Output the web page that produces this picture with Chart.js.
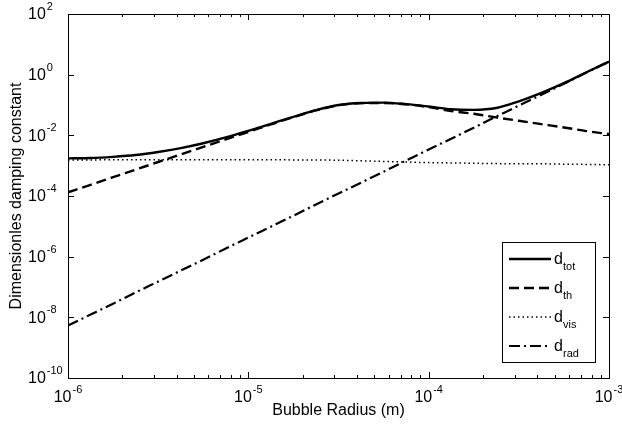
<!DOCTYPE html>
<html>
<head>
<meta charset="utf-8">
<script src="https://cdn.jsdelivr.net/npm/chart.js@4.4.1/dist/chart.umd.min.js"></script>
<style>
body{margin:0;background:#fff;}
canvas{display:block;}
</style>
</head>
<body>
<canvas id="chart" width="622" height="429"></canvas>
<script>
// bubble radius (m), 8 points per decade
var radius = [1e-6, 1.334e-6, 1.778e-6, 2.371e-6, 3.162e-6, 4.217e-6, 5.623e-6, 7.499e-6,
              1e-5, 1.334e-5, 1.778e-5, 2.371e-5, 3.162e-5, 4.217e-5, 5.623e-5, 7.499e-5,
              1e-4, 1.334e-4, 1.778e-4, 2.371e-4, 3.162e-4, 4.217e-4, 5.623e-4, 7.499e-4, 1e-3];

var dTot = [1.74e-3, 1.78e-3, 1.95e-3, 2.24e-3, 2.82e-3, 3.80e-3, 5.50e-3, 8.51e-3,
            0.0141, 0.0240, 0.0407, 0.0676, 0.100, 0.117, 0.120, 0.107,
            0.0891, 0.0724, 0.0692, 0.0794, 0.132, 0.251, 0.525, 1.20, 2.69];

var dTh = [1.32e-4, 2.34e-4, 4.17e-4, 7.41e-4, 1.32e-3, 2.34e-3, 4.17e-3, 7.41e-3,
           0.0129, 0.0229, 0.0398, 0.0661, 0.0977, 0.115, 0.117, 0.105,
           0.0851, 0.0631, 0.0513, 0.0389, 0.0302, 0.0234, 0.0182, 0.0138, 0.0110];

var dVis = [1.55e-3, 1.55e-3, 1.56e-3, 1.56e-3, 1.57e-3, 1.57e-3, 1.58e-3, 1.58e-3,
            1.57e-3, 1.56e-3, 1.55e-3, 1.54e-3, 1.51e-3, 1.45e-3, 1.38e-3, 1.32e-3,
            1.26e-3, 1.23e-3, 1.20e-3, 1.17e-3, 1.15e-3, 1.15e-3, 1.12e-3, 1.10e-3, 1.07e-3];

var dRad = [5.37e-9, 1.23e-8, 2.82e-8, 6.61e-8, 1.51e-7, 3.47e-7, 7.94e-7, 1.86e-6,
            4.27e-6, 9.77e-6, 2.24e-5, 5.25e-5, 1.20e-4, 2.75e-4, 6.31e-4, 1.48e-3,
            3.39e-3, 7.76e-3, 0.0178, 0.0417, 0.0955, 0.219, 0.501, 1.17, 2.69];

var xTicks = [1e-6, 1e-5, 1e-4, 1e-3];
var xTickExps = ['-6', '-5', '-4', '-3'];
var yTicks = [1e-10, 1e-8, 1e-6, 1e-4, 1e-2, 1, 1e2];
var yTickExps = ['-10', '-8', '-6', '-4', '-2', '0', '2'];

var legendMain = 'd';
var legendSubs = ['tot', 'th', 'vis', 'rad'];
var xTitle = 'Bubble Radius (m)';
var yTitle = 'Dimensionles damping constant';

var FONT = "'Liberation Sans', Arial, Helvetica, sans-serif";

function toPoints(vals) {
    return radius.map(function (r, i) { return {x: r, y: vals[i]}; });
}

function lineSet(label, vals, width, dash) {
    return {
        label: label,
        data: toPoints(vals),
        borderColor: '#000',
        backgroundColor: '#000',
        borderWidth: width,
        borderDash: dash,
        pointRadius: 0,
        fill: false,
        cubicInterpolationMode: 'monotone'
    };
}

// "10" with a raised exponent
function powerLabel(ctx, exp, x, y, align) {
    ctx.font = '16px ' + FONT;
    var wBase = ctx.measureText('10').width;
    ctx.font = '11px ' + FONT;
    var wExp = ctx.measureText(exp).width;
    var left = (align == 'center') ? x - (wBase + 1 + wExp) / 2 : x;
    ctx.textAlign = 'left';
    ctx.textBaseline = 'middle';
    ctx.font = '16px ' + FONT;
    ctx.fillText('10', left, y);
    ctx.font = '11px ' + FONT;
    ctx.fillText(exp, left + wBase + 1, y - 8);
}

// box around the axes, ticks pointing inwards, tick labels, y title and the legend
var framePlugin = {
    id: 'frame',
    afterDraw: function (chart) {
        var ctx = chart.ctx;
        var a = chart.chartArea;
        var xs = chart.scales.x;
        var ys = chart.scales.y;
        ctx.save();
        ctx.strokeStyle = '#000';
        ctx.lineWidth = 1;
        ctx.strokeRect(a.left + 0.5, a.top + 0.5, a.right - a.left, a.bottom - a.top);

        ctx.beginPath();
        for (var d = 0; d < xTicks.length; d++) {
            for (var k = 1; k <= 9; k++) {
                if (d == xTicks.length - 1 && k > 1) break;
                var px = Math.round(xs.getPixelForValue(xTicks[d] * k)) + 0.5;
                var len = (k == 1) ? 6 : 3;
                ctx.moveTo(px, a.bottom);
                ctx.lineTo(px, a.bottom - len);
                ctx.moveTo(px, a.top);
                ctx.lineTo(px, a.top + len);
            }
        }
        for (var j = 0; j < yTicks.length; j++) {
            var py = Math.round(ys.getPixelForValue(yTicks[j])) + 0.5;
            ctx.moveTo(a.left, py);
            ctx.lineTo(a.left + 6, py);
            ctx.moveTo(a.right, py);
            ctx.lineTo(a.right - 6, py);
        }
        ctx.stroke();

        ctx.fillStyle = '#000';
        xTicks.forEach(function (v, i) {
            powerLabel(ctx, xTickExps[i], xs.getPixelForValue(v), a.bottom + 20, 'center');
        });
        yTicks.forEach(function (v, i) {
            powerLabel(ctx, yTickExps[i], 28, ys.getPixelForValue(v) + 1, 'left');
        });

        // y axis title
        ctx.font = '16px ' + FONT;
        ctx.textAlign = 'center';
        ctx.textBaseline = 'middle';
        ctx.translate(17, (a.top + a.bottom) / 2);
        ctx.rotate(-Math.PI / 2);
        ctx.fillText(yTitle, 0, 0);
        ctx.restore();

        // legend
        ctx.save();
        ctx.fillStyle = '#fff';
        ctx.fillRect(502, 242, 93, 120);
        ctx.strokeStyle = '#000';
        ctx.lineWidth = 1;
        ctx.strokeRect(502.5, 242.5, 93, 120);
        chart.data.datasets.forEach(function (ds, i) {
            var y = 259 + i * 29;
            ctx.beginPath();
            ctx.setLineDash(ds.borderDash || []);
            ctx.lineWidth = ds.borderWidth;
            ctx.moveTo(509, y);
            ctx.lineTo(551, y);
            ctx.stroke();
            ctx.setLineDash([]);
            ctx.fillStyle = '#000';
            ctx.textAlign = 'left';
            ctx.textBaseline = 'alphabetic';
            ctx.font = '16px ' + FONT;
            ctx.fillText(legendMain, 554, y + 5);
            ctx.font = '11px ' + FONT;
            ctx.fillText(legendSubs[i], 563, y + 11);
        });
        ctx.restore();
    }
};

var chart = new Chart(document.getElementById('chart').getContext('2d'), {
    type: 'line',
    data: {
        datasets: [
            lineSet('d_tot', dTot, 2.4, []),
            lineSet('d_th', dTh, 2.4, [10, 5]),
            lineSet('d_vis', dVis, 1.5, [1.5, 3]),
            lineSet('d_rad', dRad, 2.2, [11, 4, 2, 4])
        ]
    },
    options: {
        responsive: false,
        animation: false,
        devicePixelRatio: 1,
        layout: {padding: {left: 28, top: 14, right: 13, bottom: 0}},
        plugins: {
            legend: {display: false},
            tooltip: {enabled: false}
        },
        scales: {
            x: {
                type: 'logarithmic',
                min: 1e-6,
                max: 1e-3,
                grid: {display: false},
                border: {display: false},
                afterBuildTicks: function (scale) {
                    scale.ticks = xTicks.map(function (v) { return {value: v}; });
                },
                afterFit: function (scale) {
                    scale.height = 51;
                    scale.paddingLeft = 0;
                    scale.paddingRight = 0;
                },
                ticks: {display: false},
                title: {
                    display: true,
                    text: xTitle,
                    color: '#000',
                    font: {family: FONT, size: 16},
                    padding: {top: 0, bottom: 9}
                }
            },
            y: {
                type: 'logarithmic',
                min: 1e-10,
                max: 1e2,
                grid: {display: false},
                border: {display: false},
                afterBuildTicks: function (scale) {
                    scale.ticks = yTicks.map(function (v) { return {value: v}; });
                },
                afterFit: function (scale) {
                    scale.width = 40;
                    scale.paddingTop = 0;
                    scale.paddingBottom = 0;
                },
                ticks: {display: false}
            }
        }
    },
    plugins: [framePlugin]
});
</script>
</body>
</html>
